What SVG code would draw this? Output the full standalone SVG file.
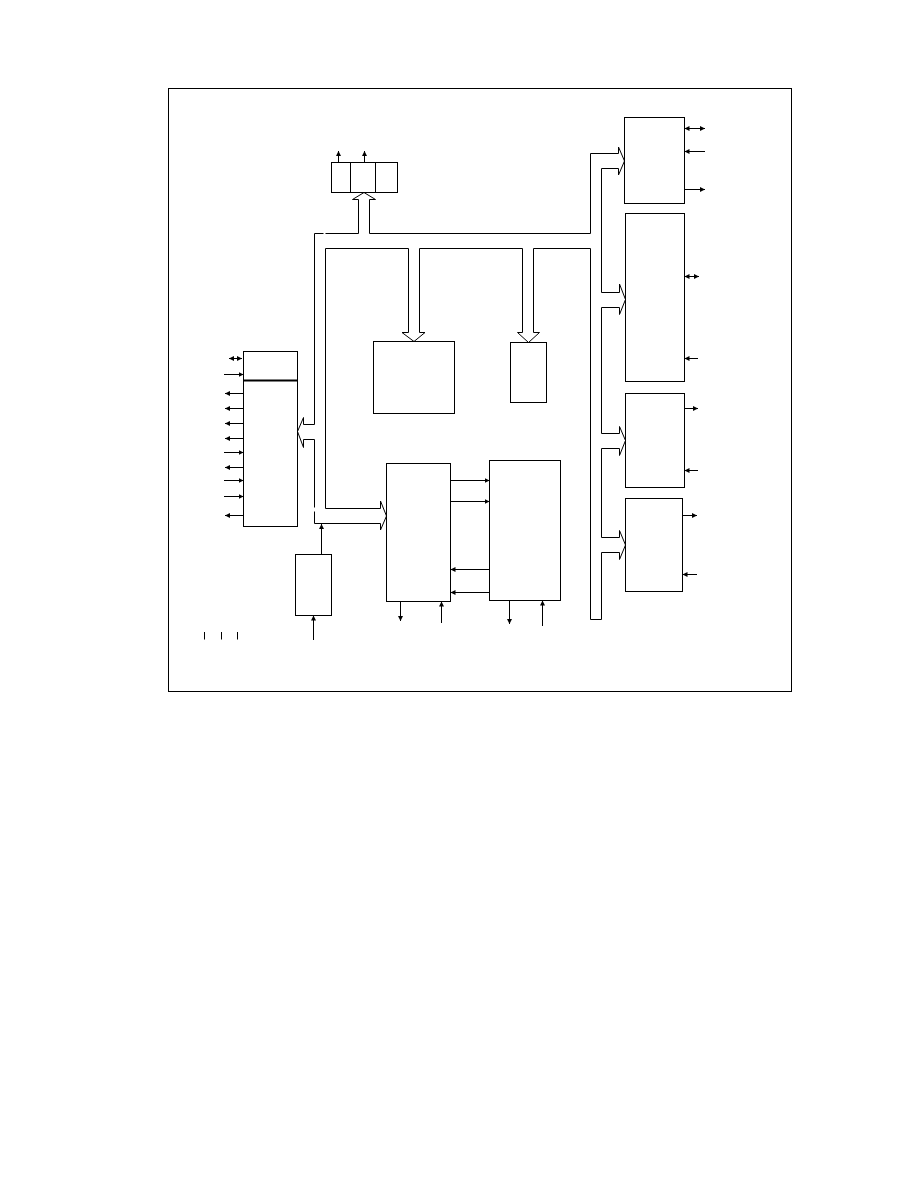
<svg xmlns="http://www.w3.org/2000/svg" width="918" height="1188" viewBox="0 0 918 1188">
<style>
.n{fill:none;stroke:#000;stroke-width:1}
.c{fill:none;stroke:#000;stroke-width:1}
.a{fill:none;stroke:#000;stroke-width:1;marker-end:url(#ah)}
.b{fill:none;stroke:#000;stroke-width:1;marker-end:url(#ah);marker-start:url(#ah)}
</style>
<defs>
<marker id="ah" markerUnits="userSpaceOnUse" markerWidth="6" markerHeight="6" refX="5" refY="2.5" orient="auto-start-reverse">
<path d="M0,0 L5,2.5 L0,5 z" fill="#000"/>
</marker>
</defs>
<rect width="918" height="1188" fill="#fff"/>
<g id="frame"><rect class="n" x="168.5" y="88.5" width="623" height="603"/></g>

<g id="register">
<rect class="n" x="331.5" y="162.5" width="66" height="30"/>
<line class="n" x1="350.5" y1="162.5" x2="350.5" y2="192.5"/>
<line class="n" x1="375.5" y1="162.5" x2="375.5" y2="192.5"/>
</g>
<g id="left-block">
<rect class="n" x="243.5" y="351.5" width="54" height="175"/>
<line x1="243.5" y1="380.5" x2="297.5" y2="380.5" stroke="#000" stroke-width="2"/>
</g>
<g id="mid-block-1"><rect class="n" x="373.5" y="341.5" width="81" height="72"/></g>
<g id="mid-block-2"><rect class="n" x="510.5" y="342.5" width="36" height="60"/></g>
<g id="center-block-1"><rect class="n" x="386.5" y="463.5" width="64" height="138"/></g>
<g id="center-block-2"><rect class="n" x="489.5" y="460.5" width="71" height="140"/></g>
<g id="small-block"><rect class="n" x="295.5" y="554.5" width="36" height="61"/></g>
<g id="right-block-1"><rect class="n" x="624.5" y="117.5" width="60" height="86"/></g>
<g id="right-block-2"><rect class="n" x="625.5" y="213.5" width="59" height="168"/></g>
<g id="right-block-3"><rect class="n" x="625.5" y="393.5" width="59" height="94"/></g>
<g id="right-block-4"><rect class="n" x="625.5" y="498.5" width="57" height="93"/></g>

<g id="connectors">
<!-- bus outlines -->
<path class="c" d="M314.5,507.5 V439.5 H303.5 V447.5 L297.5,431.5 L303.5,417.5 V424.5 H314.5 V233.5 H323.5"/>
<path class="c" d="M325.5,233.5 H358.5 V199.5 H352.5 L364,192.5 L375.5,199.5 H369.5 V233.5 H590.5 V153.5 H618.5 V147 L624.5,161 L618.5,175 V168.5 H601.5 V292.5 H619.5 V284 L625.5,299.5 L619.5,314.5 V307.5 H601.5 V433.5 H619.5 V426.5 L625.5,440.5 L619.5,455.5 V448.5 H601.5 V537.5 H619.5 V530.5 L625.5,545 L619.5,559.5 V552.5 H601.5 V619.5 H590.5 V248.5 H533.5 V332.5 H539.5 L528.5,342.5 L517.5,332.5 H522.5 V248.5 H419.5 V332.5 H425 L414,341.5 L402,332.5 H408.5 V248.5 H325.5 V508.5 H380.5 V501 L386.5,516 L380.5,530 V523.5 H314.5 V511.5"/>

<!-- register outputs -->
<line class="a" x1="338.5" y1="162.5" x2="338.5" y2="151"/>
<line class="a" x1="364.5" y1="162.5" x2="364.5" y2="151"/>

<!-- left block pins -->
<line class="b" x1="229" y1="358.5" x2="242" y2="358.5"/>
<line class="a" x1="224" y1="374.5" x2="243.5" y2="374.5"/>
<line class="a" x1="243.5" y1="393.5" x2="225" y2="393.5"/>
<line class="a" x1="243.5" y1="408.5" x2="225" y2="408.5"/>
<line class="a" x1="243.5" y1="423.5" x2="225" y2="423.5"/>
<line class="a" x1="243.5" y1="438.5" x2="225" y2="438.5"/>
<line class="a" x1="224" y1="452.5" x2="243.5" y2="452.5"/>
<line class="a" x1="243.5" y1="467.5" x2="225" y2="467.5"/>
<line class="a" x1="224" y1="480.5" x2="243.5" y2="480.5"/>
<line class="a" x1="224" y1="496.5" x2="243.5" y2="496.5"/>
<line class="a" x1="243.5" y1="515.5" x2="225" y2="515.5"/>

<!-- small block -->
<line class="a" x1="321.5" y1="554.5" x2="321.5" y2="524"/>
<line class="a" x1="313.5" y1="640" x2="313.5" y2="615.5"/>

<!-- center blocks -->
<line class="a" x1="450.5" y1="480.5" x2="489.5" y2="480.5"/>
<line class="a" x1="450.5" y1="501.5" x2="489.5" y2="501.5"/>
<line class="a" x1="489.5" y1="569.5" x2="450.5" y2="569.5"/>
<line class="a" x1="489.5" y1="592.5" x2="450.5" y2="592.5"/>
<line class="a" x1="400.5" y1="601.5" x2="400.5" y2="621"/>
<line class="a" x1="441.5" y1="623" x2="441.5" y2="601.5"/>
<line class="a" x1="509.5" y1="600.5" x2="509.5" y2="624"/>
<line class="a" x1="542.5" y1="626" x2="542.5" y2="600.5"/>

<!-- right block pins -->
<line class="b" x1="684.5" y1="128.5" x2="705" y2="128.5"/>
<line class="a" x1="705" y1="151.5" x2="684.5" y2="151.5"/>
<line class="a" x1="684.5" y1="189.5" x2="705" y2="189.5"/>
<line class="b" x1="684.5" y1="276.5" x2="699" y2="276.5"/>
<line class="a" x1="698" y1="358.5" x2="684.5" y2="358.5"/>
<line class="a" x1="684.5" y1="408.5" x2="698" y2="408.5"/>
<line class="a" x1="698" y1="470.5" x2="684.5" y2="470.5"/>
<line class="a" x1="682.5" y1="515.5" x2="697" y2="515.5"/>
<line class="a" x1="697" y1="574.5" x2="682.5" y2="574.5"/>

<!-- ticks -->
<line class="c" x1="204.5" y1="632" x2="204.5" y2="639.5"/>
<line class="c" x1="221.5" y1="632" x2="221.5" y2="639.5"/>
<line class="c" x1="237.5" y1="632" x2="237.5" y2="639.5"/>
</g>
</svg>
